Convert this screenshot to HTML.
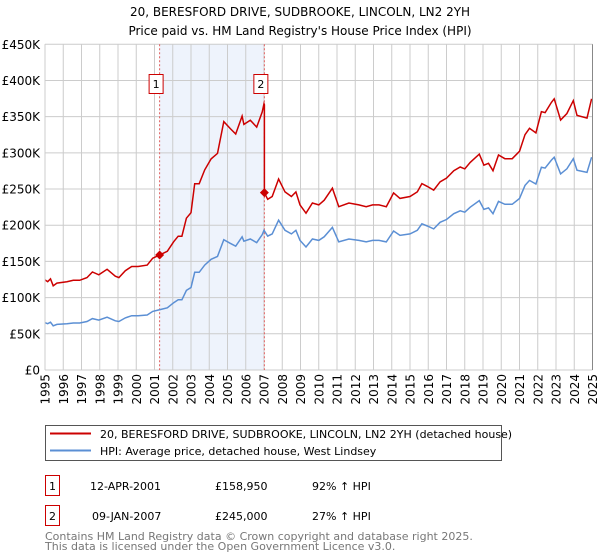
<!DOCTYPE html>
<html><head><meta charset="utf-8"><style>
body{margin:0;background:#fff;width:600px;height:560px;overflow:hidden;font-family:"DejaVu Sans","Liberation Sans",sans-serif}
svg{display:block}
</style></head><body>
<svg id="chart" width="600" height="560" viewBox="0 0 600 560">
<g font-size="12" text-anchor="middle" fill="#000">
<text x="300" y="16">20, BERESFORD DRIVE, SUDBROOKE, LINCOLN, LN2 2YH</text>
<text x="300" y="35">Price paid vs. HM Land Registry's House Price Index (HPI)</text>
</g>
<g id="plot"></g>
<g>
<rect x="45.5" y="425.5" width="456" height="35" fill="#fff" stroke="#555"/>
<line x1="50" y1="433.5" x2="91" y2="433.5" stroke="#cc0000" stroke-width="2"/>
<text x="100" y="438" font-size="11">20, BERESFORD DRIVE, SUDBROOKE, LINCOLN, LN2 2YH (detached house)</text>
<line x1="50" y1="450.5" x2="91" y2="450.5" stroke="#5b8fd4" stroke-width="2"/>
<text x="100" y="455" font-size="11">HPI: Average price, detached house, West Lindsey</text>
</g>
<g font-size="11">
<rect x="45.5" y="475.5" width="14" height="20" fill="#fff" stroke="#cc0000"/>
<text x="52.5" y="490" text-anchor="middle">1</text>
<text x="90" y="490">12-APR-2001</text>
<text x="215" y="490">£158,950</text>
<text x="312" y="490">92% ↑ HPI</text>
<rect x="45.5" y="505.5" width="14" height="20" fill="#fff" stroke="#cc0000"/>
<text x="52.5" y="520" text-anchor="middle">2</text>
<text x="92" y="520">09-JAN-2007</text>
<text x="215" y="520">£245,000</text>
<text x="312" y="520">27% ↑ HPI</text>
</g>
<g font-size="11" fill="#777">
<text x="45" y="540">Contains HM Land Registry data © Crown copyright and database right 2025.</text>
<text x="45" y="550">This data is licensed under the Open Government Licence v3.0.</text>
</g>
</svg>
<script>
const hpiDates=[1995.0,1995.15,1995.3,1995.45,1995.65,1996.2,1996.55,1996.9,1997.3,1997.6,1997.95,1998.4,1998.85,1999.05,1999.4,1999.75,2000.1,2000.6,2000.9,2001.3,2001.7,2002.05,2002.3,2002.5,2002.75,2003.0,2003.2,2003.45,2003.75,2004.1,2004.45,2004.8,2005.15,2005.45,2005.8,2005.9,2006.25,2006.6,2006.9,2007.0,2007.2,2007.45,2007.8,2008.15,2008.5,2008.75,2008.97,2009.3,2009.65,2010.0,2010.3,2010.75,2011.1,2011.65,2012.2,2012.6,2012.95,2013.3,2013.7,2014.1,2014.45,2015.0,2015.4,2015.65,2015.95,2016.3,2016.65,2017.0,2017.4,2017.75,2018.0,2018.3,2018.8,2019.05,2019.3,2019.55,2019.85,2020.2,2020.6,2021.0,2021.3,2021.55,2021.9,2022.2,2022.4,2022.75,2022.9,2023.25,2023.6,2023.95,2024.15,2024.7,2024.95];
const hpiValues=[65.3,64,66,61,63,64,65,65,67,71,69,73,68,67,72,75,75,76,81,83.5,86,93,97,97,110,114,135,135,145,153,157,180,175,171,184,178,181,176,187,193,185,188,207,193,188,193,179,170,181,179,184,197,177,181,179,177,179,179,177,192,186,188,193,202,199,195,204,208,216,220,218,225,234,222,224,216,233,229,229,237,255,262,257,280,279,290,294,271,278,292,276,273,294,285];
const saleDates=[2001.28,2007.02];
const salePrices=[158950,245000];
const yTicks=[0,50,100,150,200,250,300,350,400,450];
const yTickLabels=["£0","£50K","£100K","£150K","£200K","£250K","£300K","£350K","£400K","£450K"];
const xYears=[1995,1996,1997,1998,1999,2000,2001,2002,2003,2004,2005,2006,2007,2008,2009,2010,2011,2012,2013,2014,2015,2016,2017,2018,2019,2020,2021,2022,2023,2024,2025];

const L=45,R=592.5,T=44.3,B=370;
const xs=y=>L+(y-1995)/30*(R-L);
const ys=v=>B-v/450*(B-T);
const NS="http://www.w3.org/2000/svg";
const plot=document.getElementById('plot');
function mk(tag,attrs,parent){const e=document.createElementNS(NS,tag);for(const k in attrs)e.setAttribute(k,attrs[k]);(parent||plot).appendChild(e);return e;}
function hpiAt(t){for(let i=0;i<hpiDates.length-1;i++){if(t>=hpiDates[i]&&t<=hpiDates[i+1]){const f=(t-hpiDates[i])/(hpiDates[i+1]-hpiDates[i]);return hpiValues[i]+f*(hpiValues[i+1]-hpiValues[i]);}}return hpiValues[hpiValues.length-1];}

let e=mk('rect',{x:xs(saleDates[0]),y:T,width:xs(saleDates[1])-xs(saleDates[0]),height:B-T,fill:'#eef3fc'});


xYears.forEach(y=>{const l=mk('line',{x1:xs(y),x2:xs(y),y1:T,y2:B,stroke:'#ccc','stroke-width':1});


const t=mk('text',{x:0,y:0,'font-size':12,'text-anchor':'end',transform:`translate(${xs(y)+4.5},${374}) rotate(-90)`});t.textContent=y;

});
yTicks.forEach((v,i)=>{const l=mk('line',{x1:L,x2:R,y1:ys(v),y2:ys(v),stroke:'#ccc','stroke-width':1});


const t=mk('text',{x:40,y:ys(v)+4.5,'font-size':12,'text-anchor':'end'});t.textContent=yTickLabels[i];

});
saleDates.forEach((d,i)=>{const l=mk('line',{x1:xs(d),x2:xs(d),y1:T,y2:B,stroke:'#e06060','stroke-width':1,'stroke-dasharray':'2,2'});

});
let hp=hpiDates.map((d,i)=>`${xs(d).toFixed(1)},${ys(hpiValues[i]).toFixed(1)}`).join(' ');
e=mk('polyline',{points:hp,fill:'none',stroke:'#5b8fd4','stroke-width':1.5});


const r1=salePrices[0]/1000/hpiAt(saleDates[0]), r2=salePrices[1]/1000/hpiAt(saleDates[1]);
let pts=[];
hpiDates.forEach((d,i)=>{if(d<saleDates[1])pts.push([d,hpiValues[i]*r1]);});
pts.push([saleDates[1],hpiAt(saleDates[1])*r1]);
pts.push([saleDates[1],salePrices[1]/1000]);
hpiDates.forEach((d,i)=>{if(d>saleDates[1])pts.push([d,hpiValues[i]*r2]);});
e=mk('polyline',{points:pts.map(p=>`${xs(p[0]).toFixed(1)},${ys(p[1]).toFixed(1)}`).join(' '),fill:'none',stroke:'#cc0000','stroke-width':1.5});


saleDates.forEach((d,i)=>{const x=xs(d),y=ys(salePrices[i]/1000);
const p=mk('polygon',{points:`${x},${y-4.5} ${x+4.5},${y} ${x},${y+4.5} ${x-4.5},${y}`,fill:'#cc0000'});


const b=mk('rect',{x:x-10.5,y:74.5,width:14,height:19,fill:'#fff',stroke:'#cc0000'});


const t=mk('text',{x:x-3.5,y:88,'font-size':11,'text-anchor':'middle'});t.textContent=String(i+1);

});
e=mk('line',{x1:L,x2:L,y1:T,y2:B,stroke:'#ccc'});


e=mk('line',{x1:R,x2:R,y1:T,y2:B,stroke:'#888'});


</script>
</body></html>
